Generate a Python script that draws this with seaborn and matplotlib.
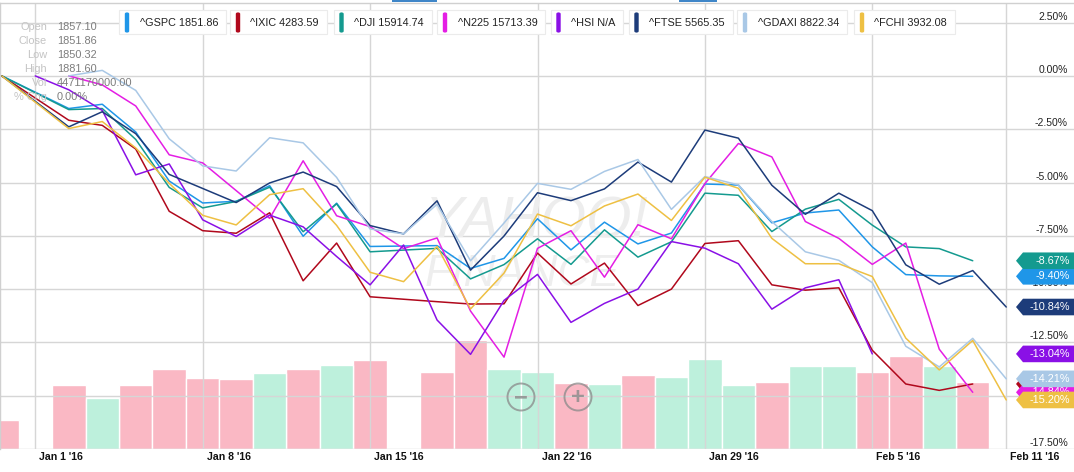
import numpy as np
import pandas as pd
import matplotlib
matplotlib.use('Agg')
import matplotlib.pyplot as plt
import seaborn as sns
from matplotlib.patches import Polygon, FancyBboxPatch, Circle, Rectangle
from matplotlib.transforms import IdentityTransform

# ---- data (percent change vs. first point, one slot per weekday) ----
dates = ['Dec 31', 'Jan 1', 'Jan 4', 'Jan 5', 'Jan 6', 'Jan 7', 'Jan 8', 'Jan 11', 'Jan 12',
         'Jan 13', 'Jan 14', 'Jan 15', 'Jan 18', 'Jan 19', 'Jan 20', 'Jan 21', 'Jan 22',
         'Jan 25', 'Jan 26', 'Jan 27', 'Jan 28', 'Jan 29', 'Feb 1', 'Feb 2', 'Feb 3',
         'Feb 4', 'Feb 5', 'Feb 8', 'Feb 9', 'Feb 10', 'Feb 11']
N = None
gspc = [0.0, N, -1.53, -1.33, -2.63, -4.93, -5.96, -5.88, -5.15, -7.52, -5.97, -8.00, N, -7.96,
        -9.03, -8.56, -6.70, -8.16, -6.86, -7.88, -7.37, -5.07, -5.12, -6.89, -6.43, -6.29,
        -8.02, -9.32, -9.38, -9.40, N]
ixic = [0.0, N, -2.08, -2.32, -3.43, -6.35, -7.26, -7.38, -6.42, -9.61, -7.84, -10.36, N, -10.59,
        -10.70, -10.69, -8.31, -9.76, -8.78, -10.77, -10.00, -7.86, -7.73, -9.80, -10.05, -9.94,
        -12.87, -14.45, -14.75, -14.45, N]
dji = [0.0, N, -1.58, -1.53, -2.98, -5.23, -6.19, -5.89, -5.22, -7.31, -6.00, -8.25, N, -8.09,
       -9.52, -8.85, -7.64, -8.84, -7.22, -8.50, -7.78, -5.50, -5.60, -7.30, -6.25, -5.79,
       -7.00, -8.02, -8.10, -8.67, N]
n225 = [N, N, 0.0, -0.42, -1.41, -3.70, -4.08, N, -6.68, -3.98, -6.56, -7.07, -8.10, -7.60,
        -11.03, -13.19, -8.09, -7.26, -9.44, -6.98, -7.64, -5.05, -3.17, -3.80, -6.83, -7.62,
        -8.84, -7.84, -12.82, -14.84, N]
hsi = [N, 0.0, -0.65, -1.62, -4.64, -4.13, -6.75, -7.53, -6.53, -7.08, -8.47, -9.80, -7.93, -11.45,
       -13.06, -10.53, -9.31, -11.56, -10.67, -10.00, -7.77, -8.08, -8.81, -10.94, -9.94, -9.56,
       -13.04, N, N, N, N]
ftse = [0.0, N, -2.39, -1.68, -2.71, -4.62, -5.28, -5.94, -5.02, -4.51, -5.19, -7.02, -7.41, -5.86,
        -9.11, -7.51, -5.48, -5.85, -5.30, -4.04, -4.98, -2.54, -2.92, -5.13, -6.49, -5.50,
        -6.32, -8.86, -9.77, -9.13, -10.84]
gdaxi = [N, N, 0.0, 0.26, -0.68, -2.95, -4.22, -4.46, -2.90, -3.14, -4.76, -7.18, -7.41, -6.02,
         -8.67, -6.90, -5.04, -5.32, -4.48, -3.92, -6.26, -4.72, -5.11, -6.83, -8.25, -8.65,
         -9.70, -12.68, -13.65, -12.31, -14.21]
fchi = [0.0, N, -2.47, -2.14, -3.38, -5.04, -6.54, -6.99, -5.57, -5.29, -7.01, -9.21, -9.65, -8.00,
        -10.93, -9.25, -6.48, -7.03, -6.10, -5.54, -6.78, -4.75, -5.27, -7.62, -8.81, -8.81,
        -9.41, -12.30, -13.79, -12.41, -15.20]

series_names = ['^GSPC', '^IXIC', '^DJI', '^N225', '^HSI', '^FTSE', '^GDAXI', '^FCHI']
series_vals = [gspc, ixic, dji, n225, hsi, ftse, gdaxi, fchi]
legend_labels = ['^GSPC 1851.86', '^IXIC 4283.59', '^DJI 15914.74', '^N225 15713.39',
                 '^HSI N/A', '^FTSE 5565.35', '^GDAXI 8822.34', '^FCHI 3932.08']
colors = ['#1f96e8', '#b0081c', '#149a8f', '#e41ee4', '#8a10e6', '#1d3c7a', '#a9c8e6', '#eec043']

# volume (billions) of ^GSPC, None = market closed
volume = [1.90, N, 4.22, 3.36, 4.27, 5.33, 4.74, 4.65, 5.07, 5.33, 5.55, 5.88, N, 5.13, 7.21,
          5.33, 5.09, 4.38, 4.32, 4.89, 4.80, 5.95, 4.25, 4.47, 5.49, 5.49, 5.13, 6.15, 5.49,
          4.47, N]
vol_dir = ['d', N, 'd', 'u', 'd', 'd', 'd', 'd', 'u', 'd', 'u', 'd', N, 'd', 'd', 'u', 'u',
           'd', 'u', 'd', 'u', 'u', 'u', 'd', 'u', 'u', 'd', 'd', 'u', 'd', N]

tick_slots = [1, 6, 11, 16, 21, 26, 30]
tick_labels = ["Jan 1 '16", "Jan 8 '16", "Jan 15 '16", "Jan 22 '16", "Jan 29 '16",
               "Feb 5 '16", "Feb 11 '16"]
y_ticks = [2.5, 0.0, -2.5, -5.0, -7.5, -10.0, -12.5, -15.0, -17.5]

tip_labels = ['Open', 'Close', 'Low', 'High', 'Vol', '% Chg']
tip_values = ['1857.10', '1851.86', '1850.32', '1881.60', '4471170000.00', '0.00%']

# ---- frames ----
rows = []
for name, vals in zip(series_names, series_vals):
    for i, v in enumerate(vals):
        if v is not None:
            rows.append((name, i, v))
lines_df = pd.DataFrame(rows, columns=['series', 'slot', 'pct'])

vol_df = pd.DataFrame({'slot': range(len(dates)), 'vol': volume, 'dir': vol_dir}).dropna()

sns.set_theme(style='white')
plt.rcParams['font.family'] = ['Liberation Sans', 'DejaVu Sans']

W, H = 1074, 472
fig = plt.figure(figsize=(W / 100, H / 100), dpi=100)


def fx(x):
    return x / W


def fy(y):
    return 1 - y / H


# plot area: y from 3px to 449px
rect = [0, fy(449), 1, (449 - 3) / H]
ax_vol = fig.add_axes(rect)
ax = fig.add_axes(rect, sharex=ax_vol)
ax.patch.set_visible(False)

sns.barplot(data=vol_df, x='slot', y='vol', hue='dir', palette={'u': '#bdf0dc', 'd': '#fab8c4'},
            saturation=1, native_scale=True, width=1.0, dodge=False, errorbar=None,
            legend=False, edgecolor='white', linewidth=1.0, ax=ax_vol)
ax_vol.set_ylim(0, 29.6)
ax_vol.axis('off')

sns.lineplot(data=lines_df, x='slot', y='pct', hue='series', hue_order=series_names,
             palette=dict(zip(series_names, colors)), estimator=None, sort=True,
             linewidth=1.1, legend=False, ax=ax, zorder=3)

slot_px = 33.48
x0_px = 1.82
ax.set_xlim(-x0_px / slot_px, (W - x0_px) / slot_px)
ax.set_ylim(-17.5, 3.42)
ax.set_xticks(tick_slots)
ax.set_yticks(y_ticks)
ax.tick_params(length=0, labelbottom=False, labelleft=False)
ax.grid(True, color='#d6d6d6', linewidth=1.0)
ax.set_axisbelow(True)
ax.set_xlabel('')
ax.set_ylabel('')
for side in ['right', 'bottom']:
    ax.spines[side].set_visible(False)
for side in ['top', 'left']:
    ax.spines[side].set_color('#d0d0d0')
    ax.spines[side].set_linewidth(1.0)

# watermark
ax.text(fx(537), fy(222), 'YAHOO!', transform=fig.transFigure, ha='center', va='center',
        fontsize=42, color='#ededed', zorder=1, fontstyle='italic')
ax.text(fx(522), fy(275), 'FINANCE', transform=fig.transFigure, ha='center', va='center',
        fontsize=32, color='#eeeeee', zorder=1, fontstyle='italic')

# right side y labels
px_per_pct = 21.31
for v in y_ticks:
    ax.text(1068 / W, v + 6 / px_per_pct, f'{v:.2f}%', transform=ax.get_yaxis_transform(),
            ha='right', va='center', fontsize=7.5, color='#222222', zorder=5)

# x labels
for s, lab in zip(tick_slots, tick_labels):
    ax.text(s + 4 / slot_px, -8.5 / 446, lab, transform=ax.get_xaxis_transform(),
            ha='left', va='center', fontsize=7.6, fontweight='bold', color='#111111',
            clip_on=False)

# value tags on the right, later series drawn over earlier ones
half = 8.3 / px_per_pct
tip = 1016 / W
body = 1023 / W
for k, (vals, col) in enumerate(zip(series_vals, colors)):
    last = [v for v in vals if v is not None][-1]
    poly = Polygon([(tip, last), (body, last + half), (1.01, last + half),
                    (1.01, last - half), (body, last - half)], closed=True,
                   transform=ax.get_yaxis_transform(), facecolor=col, edgecolor='none',
                   clip_on=False, zorder=8 + 2 * k)
    ax.add_patch(poly)
    ax.text(1070 / W, last, f'{last:.2f}%', transform=ax.get_yaxis_transform(),
            ha='right', va='center', fontsize=7.8, color='white', zorder=9 + 2 * k,
            clip_on=False)

# legend across the top
renderer = fig.canvas.get_renderer()
bar_px = [127, 238, 341.5, 445, 558.5, 636.5, 745, 862]
for bx, lab, col in zip(bar_px, legend_labels, colors):
    t = fig.text(fx(bx + 12.5), fy(22.5), lab, ha='left', va='center', fontsize=7.8,
                 color='#222222', zorder=31)
    tw = t.get_window_extent(renderer).width
    box = FancyBboxPatch((fx(bx - 8), fy(34)), fx(12.5 + tw + 16), (34 - 10) / H,
                         boxstyle='square,pad=0', transform=fig.transFigure,
                         facecolor='white', edgecolor='#ebebeb', linewidth=0.8, zorder=30)
    fig.add_artist(box)
    mark = FancyBboxPatch((fx(bx - 2.2), fy(33)), fx(4.4), 21 / H,
                          boxstyle='round,pad=0,rounding_size=0.004',
                          transform=fig.transFigure, facecolor=col, edgecolor='none',
                          zorder=31)
    fig.add_artist(mark)

# small blue slivers on the top edge
for x_a, x_b in [(392, 437), (679, 717)]:
    fig.add_artist(Rectangle((fx(x_a), fy(2)), fx(x_b - x_a), 2 / H, transform=fig.transFigure,
                             facecolor='#3f86c8', edgecolor='none', zorder=32))

# tooltip panel at top left
for k, (lab, val) in enumerate(zip(tip_labels, tip_values)):
    yy = 27 + 14 * k
    fig.text(fx(47), fy(yy), lab, ha='right', va='center', fontsize=7.9, color='#c4c4c4',
             zorder=32)
    fig.text(fx(57), fy(yy), val, ha='left', va='center', fontsize=7.9, color='#7d7d7d',
             zorder=32)

# zoom buttons
for cx, sym in [(521, '\u2212'), (578, '+')]:
    fig.add_artist(Circle((cx, H - 397), 13.5, transform=IdentityTransform(),
                          facecolor='none', edgecolor='#8a8a8a', linewidth=1.4, alpha=0.75,
                          zorder=32))
    fig.text(fx(cx), fy(397.5), sym, ha='center', va='center', fontsize=17, color='#8a8a8a',
             alpha=0.8, zorder=32, fontweight='bold')

fig.savefig('out.png', dpi=100)
